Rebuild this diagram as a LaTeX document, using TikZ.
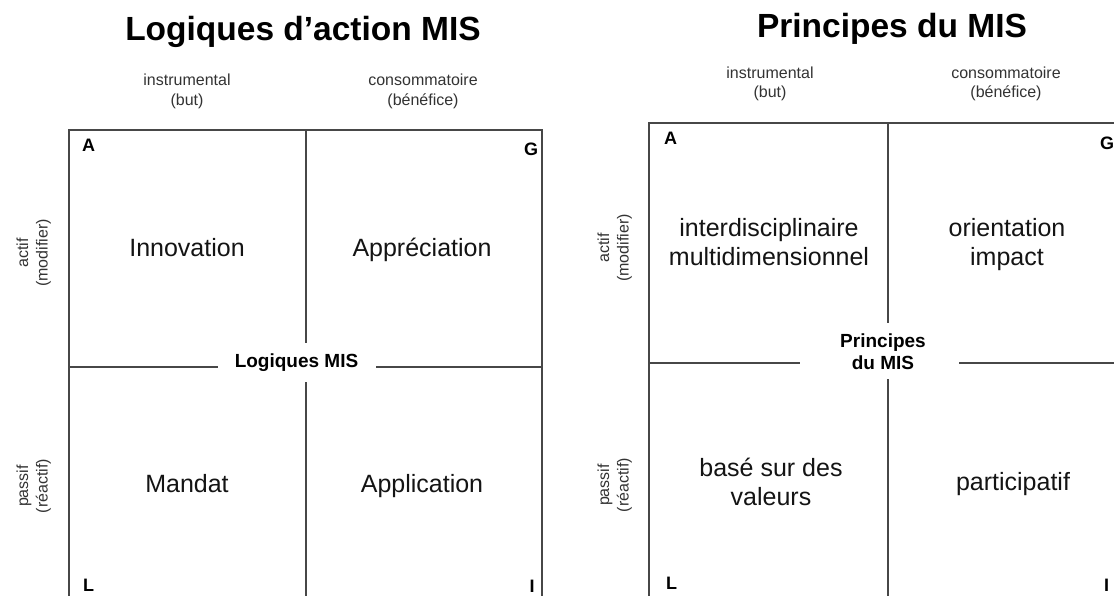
\documentclass[tikz,border=0pt]{standalone}
\usepackage{fontspec}
\setmainfont{Liberation Sans}
\begin{document}
\begin{tikzpicture}[x=1pt,y=-1pt,
  frame/.style={draw=black!72, line width=1.1pt},
  hdr/.style={font=\fontsize{16}{19}\selectfont, text=black!80, anchor=base, inner sep=0pt},
  side/.style={font=\fontsize{16}{19}\selectfont, text=black!80, rotate=90, anchor=base, inner sep=0pt},
  quad/.style={font=\fontsize{25}{29}\selectfont, text=black!92, anchor=base, inner sep=0pt},
  corner/.style={font=\bfseries\fontsize{18}{20}\selectfont, anchor=base, inner sep=0pt},
  ttl/.style={font=\bfseries\fontsize{33.5}{38}\selectfont, anchor=base, inner sep=0pt},
  midlbl/.style={font=\bfseries\fontsize{19}{22}\selectfont, anchor=base, inner sep=0pt}]
\useasboundingbox (0,0) rectangle (1114,596);
\fill[white] (0,0) rectangle (1114,596);
\clip (0,0) rectangle (1114,596);

% ---------------- left diagram ----------------
\coordinate (LTL) at (69,130);
\coordinate (LTR) at (542,130);
\coordinate (LBL) at (69,605);
\coordinate (LBR) at (542,605);
\coordinate (LTM) at (306,130);
\coordinate (LBM) at (306,605);
\coordinate (LML) at (69,367);
\coordinate (LMR) at (542,367);
\coordinate (LVa) at (306,343);
\coordinate (LVb) at (306,382);
\coordinate (LHa) at (218,367);
\coordinate (LHb) at (376,367);

\draw[frame] (LBL) -- (LTL) -- (LTR) -- (LBR);
\draw[frame] (LTM) -- (LVa);
\draw[frame] (LVb) -- (LBM);
\draw[frame] (LML) -- (LHa);
\draw[frame] (LHb) -- (LMR);

\node[ttl] (ltitle) at (303,41) {Logiques d’action MIS};
\node[hdr] (lh1a) at (187,86) {instrumental};
\node[hdr] (lh1b) at (187,106) {(but)};
\node[hdr] (lh2a) at (423,86) {consommatoire};
\node[hdr] (lh2b) at (423,106) {(bénéfice)};
\node[side] (ls1a) at (28,253) {actif};
\node[side] (ls1b) at (47.5,253) {(modifier)};
\node[side] (ls2a) at (28,486) {passif};
\node[side] (ls2b) at (47.5,486) {(réactif)};

\node[corner, anchor=base west] (lA) at (82,152) {A};
\node[corner] (lG) at (531,156) {G};
\node[corner, anchor=base west] (lL) at (83,591) {L};
\node[corner] (lI) at (532,592) {I};

\node[quad] (linno) at (187,257) {Innovation};
\node[quad] (lappr) at (422,257) {Appréciation};
\node[quad] (lmand) at (187,492) {Mandat};
\node[quad] (lappl) at (422,492) {Application};
\node[midlbl] (lmid) at (296.5,367.5) {Logiques MIS};

% ---------------- right diagram ----------------
\coordinate (RTL) at (649,123);
\coordinate (RTR) at (1127,123);
\coordinate (RBL) at (649,605);
\coordinate (RBR) at (1127,605);
\coordinate (RTM) at (888,123);
\coordinate (RBM) at (888,605);
\coordinate (RML) at (649,363);
\coordinate (RMR) at (1127,363);
\coordinate (RVa) at (888,323);
\coordinate (RVb) at (888,379);
\coordinate (RHa) at (800,363);
\coordinate (RHb) at (959,363);

\draw[frame] (RBL) -- (RTL) -- (RTR) -- (RBR);
\draw[frame] (RTM) -- (RVa);
\draw[frame] (RVb) -- (RBM);
\draw[frame] (RML) -- (RHa);
\draw[frame] (RHb) -- (RMR);

\node[ttl] (rtitle) at (892,38) {Principes du MIS};
\node[hdr] (rh1a) at (770,79) {instrumental};
\node[hdr] (rh1b) at (770,97.5) {(but)};
\node[hdr] (rh2a) at (1006,79) {consommatoire};
\node[hdr] (rh2b) at (1006,97.5) {(bénéfice)};
\node[side] (rs1a) at (609,248) {actif};
\node[side] (rs1b) at (628.5,248) {(modifier)};
\node[side] (rs2a) at (609,485) {passif};
\node[side] (rs2b) at (628.5,485) {(réactif)};

\node[corner, anchor=base west] (rA) at (664,145) {A};
\node[corner, anchor=base west] (rG) at (1100,150) {G};
\node[corner, anchor=base west] (rL) at (666,589) {L};
\node[corner] (rI) at (1106.5,591) {I};

\node[quad] (rint1) at (769,236.5) {interdisciplinaire};
\node[quad] (rint2) at (769,265.5) {multidimensionnel};
\node[quad] (rori1) at (1007,236.5) {orientation};
\node[quad] (rori2) at (1007,265.5) {impact};
\node[quad] (rbas1) at (771,476) {basé sur des};
\node[quad] (rbas2) at (771,505) {valeurs};
\node[quad] (rpart) at (1013,490) {participatif};
\node[midlbl] (rmid1) at (883,347) {Principes};
\node[midlbl] (rmid2) at (883,369) {du MIS};
\end{tikzpicture}
\end{document}
